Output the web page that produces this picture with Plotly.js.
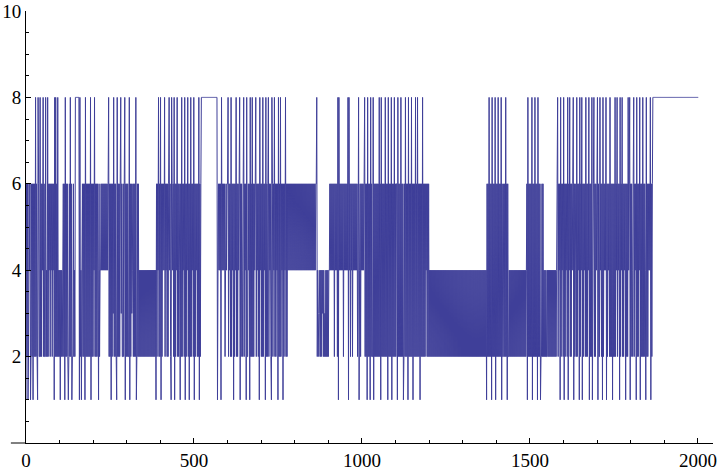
<!DOCTYPE html>
<html>
<head>
<meta charset="utf-8">
<script src="https://cdn.plot.ly/plotly-3.0.1.min.js"></script>
<style>html,body{margin:0;padding:0;background:#fff;}#chart{width:720px;height:470px;}</style>
</head>
<body>
<div id="chart"></div>
<script>
// State sequence, one value per step of 1.5 on the x axis
const stateChunks = [
  "1626126461",
  "2626", "1626", "2826", "2186", "2282", "6264", "8262",
  "282428",
  "26462646264618282628",
  "2424142424",
  "626182626212628261226242",
  "88888888182414",
  "62626182", "62626262", "81626264", "82626264", "1624",
  "4646464646464646",
  "82626162", "63826262", "18262626", "83622626", "81626262", "28162634", "62626281", "2626",
  "24242424242424242424", "24242424242424",
  "16264826", "28162646", "48264626", "26846218", "64",
  "62816264", "82626416", "28264628", "16264826", "16282646", "28162646", "26281626",
  "8888888888", "8888888888", "8888888888", "88",
  "14646461846464624646",
  "68264628", "26461626", "48262646", "81626426", "82646182", "26461826", "28262646",
  "82646261", "84626282", "64618262", "68264621", "86264826", "26461826", "28264616", "26482626",
  "46464646464646464646", "46464646464646464646", "4646464646464646",
  "68243234242434242324242424",
  "46464646", "46264646", "28184646", "46462646", "46464818", "46264626", "46464646", "24814626", "464646",
  "82626182", "62618262", "28162626", "26262826", "18262626", "28262618", "26262816", "26282626",
  "61826262", "82626126", "28262618", "26262826", "16262826", "28262616", "26282626", "26462626",
  "24242424242424242424", "24242424242424242424", "24242424242424242424",
  "24242424242424242424", "24242424242424242424", "24242424242424",
  "16262826", "26182626", "28162628", "26262816", "22626282", "61622424",
  "24242424242424242424", "242424242424",
  "61826262", "62816262", "82626182", "62612262", "62424242",
  "24242424242424242424",
  "68264618", "26462816", "26462816", "48262646", "81626428", "26461826", "48162646", "28262648",
  "16262814", "68262646", "81622846", "26182646", "48162646", "28262616", "26282648", "26461826",
  "48262646", "16262846", "81626426", "82646182", "62648162", "62826264", "18262646", "481626",
  "8888888888", "8888888888", "8888888888", "8888888888", "8888888888",
  "8888888888", "8888888888", "8888888888", "8888888888", "8"
];
const stateValues = stateChunks.join("").split("").map(Number);
const xStart = 0;
const xStep = 1.5;

const xTickVals = [0, 500, 1000, 1500, 2000];
const yTickVals = [2, 4, 6, 8, 10];

const lineColor = "#3f3f99";
const tickFont = {family: "Liberation Serif, Times New Roman, serif", size: 19, color: "#000"};

const trace = {
  type: "scatter",
  mode: "lines",
  x0: xStart,
  dx: xStep,
  y: stateValues,
  line: {color: lineColor, width: 1, simplify: false},
  hoverinfo: "skip"
};

const layout = {
  width: 720,
  height: 470,
  margin: {l: 26, r: 7, t: 11, b: 27},
  paper_bgcolor: "#fff",
  plot_bgcolor: "#fff",
  showlegend: false,
  xaxis: {
    range: [0, 2045],
    showgrid: false,
    zeroline: false,
    showline: true,
    linecolor: "#000",
    linewidth: 1,
    ticks: "inside",
    ticklen: 5,
    tickwidth: 1,
    tickcolor: "#000",
    tickvals: xTickVals,
    ticktext: xTickVals.map(String),
    tickfont: tickFont,
    minor: {dtick: 100, tick0: 0, ticks: "inside", ticklen: 3, tickwidth: 1, tickcolor: "#000", showgrid: false}
  },
  yaxis: {
    range: [0, 10],
    showgrid: false,
    zeroline: false,
    showline: true,
    linecolor: "#000",
    linewidth: 1,
    ticks: "inside",
    ticklen: 5,
    tickwidth: 1,
    tickcolor: "#000",
    tickvals: yTickVals,
    ticktext: yTickVals.map(String),
    tickfont: tickFont,
    minor: {dtick: 0.5, tick0: 0, ticks: "inside", ticklen: 3, tickwidth: 1, tickcolor: "#000", showgrid: false}
  },
  shapes: [
    {type: "line", xref: "paper", yref: "paper", x0: -0.022, x1: 0, y0: 0, y1: 0,
     line: {color: "#000", width: 1}}
  ]
};

Plotly.newPlot("chart", [trace], layout, {staticPlot: true, displayModeBar: false});
</script>
</body>
</html>
